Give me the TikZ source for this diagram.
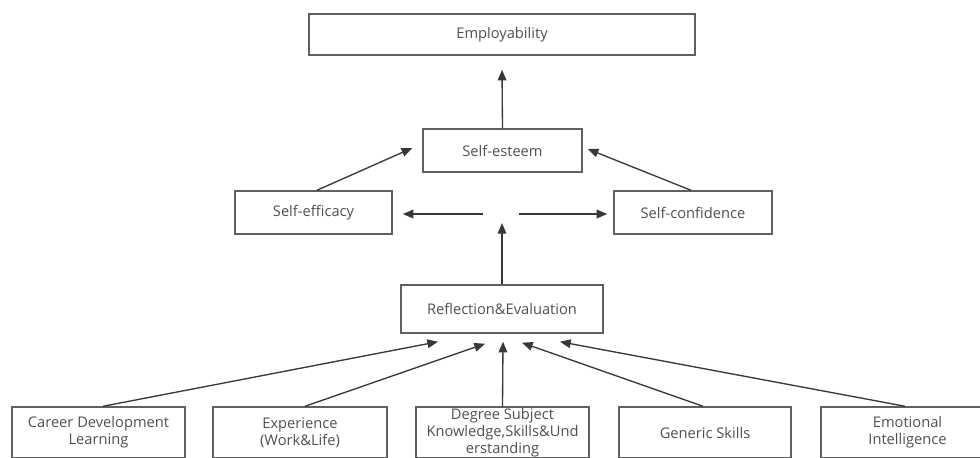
\documentclass[tikz,border=0pt]{standalone}
\usepackage{fontspec}
\setmainfont{Open Sans}
\usetikzlibrary{arrows.meta,calc}
\definecolor{boxline}{HTML}{606060}
\definecolor{arrline}{HTML}{383838}
\definecolor{txt}{HTML}{505050}
\begin{document}
\begin{tikzpicture}[
  x={(0.75pt,0)}, y={(0,-0.75pt)},
  box/.style={draw=boxline, line width=1.1pt, rectangle, inner sep=0pt,
    text=txt, font=\fontsize{11pt}{12.75pt}\selectfont, align=center},
  arr/.style={draw=arrline, line width=1pt,
    -{Triangle[length=8pt,width=6.5pt]}}
]
\useasboundingbox (0,0) rectangle (980,457);
\clip (0,0) rectangle (980,457);
\fill[white] (0,0) rectangle (980,457);

% top levels
\node[box, minimum width=386*0.75pt, minimum height=41*0.75pt] (emp) at (502,34.5) {Employability};
\node[box, minimum width=159*0.75pt, minimum height=43*0.75pt] (est) at (502.5,150.5) {Self-esteem};
\node[box, minimum width=157*0.75pt, minimum height=43*0.75pt] (eff) at (313.5,212.5) {Self-efficacy};
\node[box, minimum width=158*0.75pt, minimum height=43*0.75pt] (conf) at (693,212.5) {Self-confidence};
\node[box, minimum width=202*0.75pt, minimum height=48*0.75pt] (refl) at (502,309) {Reflection\&Evaluation};

% bottom row of inputs
\node[box, minimum width=173*0.75pt, minimum height=51*0.75pt] (career) at (98.5,432.5) {Career Development\\Learning};
\node[box, minimum width=174*0.75pt, minimum height=51*0.75pt] (exper) at (300,432.5) {Experience\\(Work\&Life)};
\node[box, minimum width=173*0.75pt, minimum height=51*0.75pt] (degree) at (502.5,432.5) {Degree Subject\\Knowledge,Skills\&Und\\erstanding};
\node[box, minimum width=172*0.75pt, minimum height=51*0.75pt] (generic) at (705,432.5) {Generic Skills};
\node[box, minimum width=173*0.75pt, minimum height=51*0.75pt] (emot) at (907.5,432.5) {Emotional\\Intelligence};

% branching point between efficacy and confidence
\coordinate (hubL) at (483,214);
\coordinate (hubR) at (519,214);
\coordinate (hubB) at (502,223);

% connectors
\draw[arr] (est.north) -- ($(emp.south)+(0,14)$);
\draw[arr] ($(eff.north)+(3.5,0)$) -- ($(est.west)+(-10,-2.5)$);
\draw[arr] ($(conf.north)+(-2,0)$) -- ($(est.east)+(5,-1.5)$);
\draw[arr] (hubL) -- ($(eff.east)+(10,1.5)$);
\draw[arr] (hubR) -- ($(conf.west)+(-6,1.5)$);
\draw[arr] (refl.north) -- (hubB);

\draw[arr] ($(career.north)+(4.5,0)$) -- ($(refl.south)+(-64,8)$);
\draw[arr] ($(exper.north)+(5,0)$) -- ($(refl.south)+(-17,10)$);
\draw[arr] (degree.north) -- ($(refl.south)+(1,8)$);
\draw[arr] ($(generic.north)+(-2,0)$) -- ($(refl.south)+(20,9)$);
\draw[arr] ($(emot.north)+(-2.5,0)$) -- ($(refl.south)+(58,8)$);
\end{tikzpicture}
\end{document}
